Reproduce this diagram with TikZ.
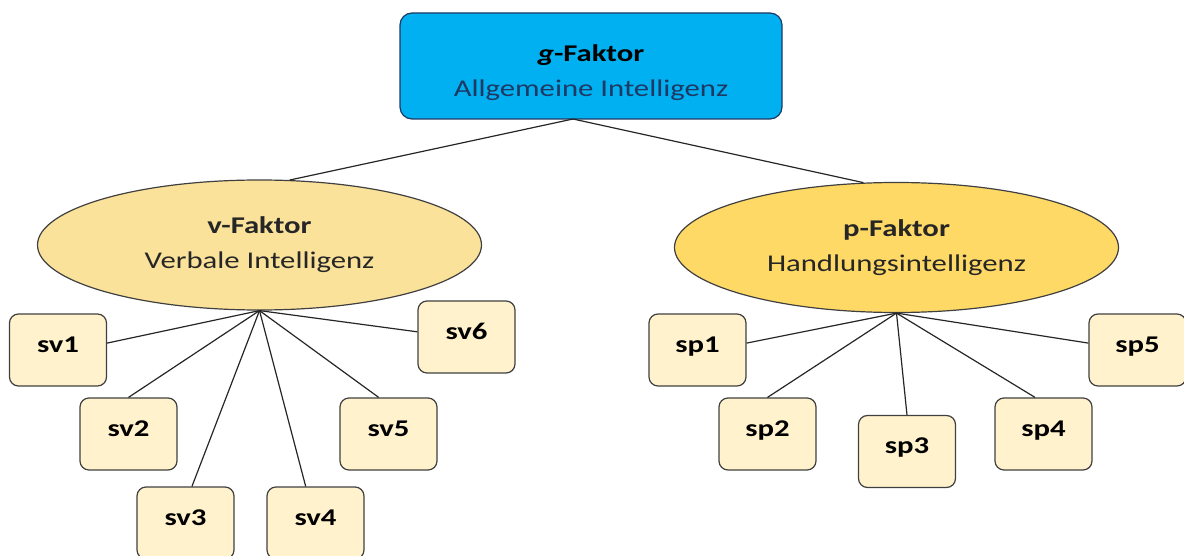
\documentclass[tikz,border=0pt]{standalone}
\usepackage{fontspec}
\setmainfont[FakeStretch=1.28]{Carlito}
\usepackage{tikz}
\usetikzlibrary{shapes.geometric}

\definecolor{gblue}{RGB}{0,176,240}
\definecolor{gline}{RGB}{31,56,100}
\definecolor{vgold}{RGB}{250,226,155}
\definecolor{pgold}{RGB}{255,217,102}
\definecolor{scream}{RGB}{255,242,204}
\definecolor{edgegray}{RGB}{64,64,64}

\tikzset{
  factor/.style={ellipse,draw=edgegray,line width=1.2pt,inner sep=0pt,
    minimum width=444pt,minimum height=130pt,align=center,text=black!85},
  sbox/.style={rectangle,rounded corners=9pt,draw=edgegray,line width=1.2pt,
    fill=scream,minimum width=97pt,minimum height=72pt,inner sep=0pt,
    font=\fontsize{24}{35}\selectfont\bfseries,text height=17pt,text depth=13pt},
  link/.style={draw=black!85,line width=1.2pt}
}

\begin{document}
\begin{tikzpicture}[x=1pt,y=-1pt,font=\fontsize{24}{35}\selectfont]
\useasboundingbox (0,0) rectangle (1184,556);

% general factor
\node[rectangle,rounded corners=12pt,draw=gline,line width=1.2pt,fill=gblue,
  minimum width=382pt,minimum height=106pt,align=center] (g) at (591,66)
  {\rule{0pt}{30pt}\textbf{\textit{g}-Faktor}\\\textcolor{gline}{Allgemeine Intelligenz}};
\coordinate (gtip) at (573,119);

% group factors
\node[factor,fill=vgold] (v) at (259.5,245) {\textbf{v-Faktor}\\Verbale Intelligenz};
\node[factor,fill=pgold] (p) at (896.5,247.5) {\textbf{p-Faktor}\\Handlungsintelligenz};

\draw[link] (gtip) -- (v.65);
\draw[link] (gtip) -- (p.117);

% specific factors, verbal
\node[sbox] (sv1) at (58,350) {sv1};
\node[sbox] (sv2) at (128.5,434) {sv2};
\node[sbox] (sv3) at (185.5,523) {sv3};
\node[sbox] (sv4) at (315.5,523) {sv4};
\node[sbox] (sv5) at (388.5,434) {sv5};
\node[sbox] (sv6) at (466.5,337) {sv6};

\draw[link] (v.south) -- (sv1.8);
\draw[link] (v.south) -- (sv2.north);
\draw[link] (v.south) -- (sv3.80);
\draw[link] (v.south) -- (sv4.105);
\draw[link] (v.south) -- (sv5.105);
\draw[link] (v.south) -- (sv6.174);

% specific factors, performance
\node[sbox] (sp1) at (697.5,350) {sp1};
\node[sbox] (sp2) at (767.5,434) {sp2};
\node[sbox] (sp3) at (907,451.5) {sp3};
\node[sbox] (sp4) at (1043.5,434) {sp4};
\node[sbox] (sp5) at (1137.5,350) {sp5};

\draw[link] (p.south) -- (sp1.8);
\draw[link] (p.south) -- (sp2.north);
\draw[link] (p.south) -- (sp3.north);
\draw[link] (p.south) -- (sp4.103);
\draw[link] (p.south) -- (sp5.172);
\end{tikzpicture}
\end{document}
